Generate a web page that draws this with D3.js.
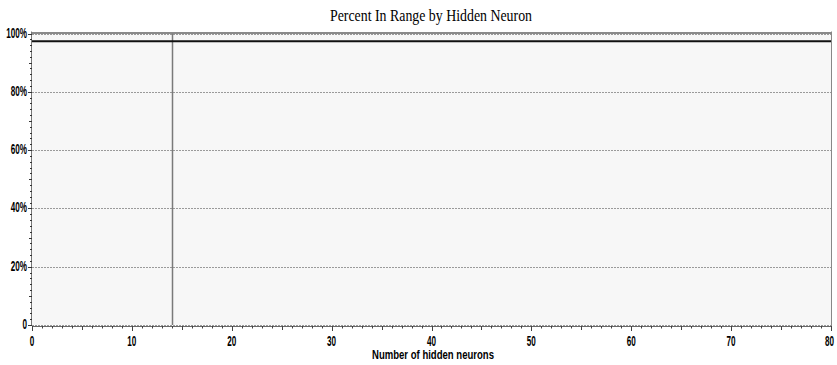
<!DOCTYPE html>
<html><head><meta charset="utf-8">
<script src="https://cdn.jsdelivr.net/npm/d3@7"></script>
<style>
html,body{margin:0;padding:0;background:#fff;}
svg text{font-family:"Liberation Sans","Arial",sans-serif;font-weight:bold;}
</style></head>
<body><svg id="c" width="837" height="365"></svg>
<script>
const title = "Percent In Range by Hidden Neuron";
const xLabel = "Number of hidden neurons";
const hiddenNeurons = [0, 10, 20, 30, 40, 50, 60, 70, 80];
const percentInRange = [97.3, 97.3, 97.3, 97.3, 97.3, 97.3, 97.3, 97.3, 97.3];
const selectedNeurons = 14;
const xTicks = [0, 10, 20, 30, 40, 50, 60, 70, 80];
const yTicks = [0, 20, 40, 60, 80, 100];
const yTickLabels = ["0", "20%", "40%", "60%", "80%", "100%"];

const svg = d3.select("#c");
const m = {l: 32, r: 6, t: 33.5, b: 40};
const W = 837, H = 365;
const x = d3.scaleLinear().domain([0, 80]).range([m.l, W - m.r]);
const y = d3.scaleLinear().domain([0, 100]).range([H - m.b, m.t]);

function squeeze(sel, f) {
  sel.each(function() {
    const n = this.getComputedTextLength();
    d3.select(this).attr("textLength", n * f).attr("lengthAdjust", "spacingAndGlyphs");
  });
}

svg.append("rect").attr("x", x(0)).attr("y", y(100)).attr("width", x(80) - x(0)).attr("height", y(0) - y(100)).attr("fill", "#f7f7f7");

// gridlines
svg.append("g").selectAll("line").data(yTicks).join("line")
  .attr("x1", x(0)).attr("x2", x(80)).attr("y1", d => Math.round(y(d)) + 0.5).attr("y2", d => Math.round(y(d)) + 0.5)
  .attr("stroke", "#9a9a9a").attr("stroke-width", 1).attr("stroke-dasharray", "2,1");

// top border
svg.append("line").attr("x1", x(0)).attr("x2", x(80)).attr("y1", Math.round(y(100)) - 1).attr("y2", Math.round(y(100)) - 1)
  .attr("stroke", "#8a8a8a").attr("stroke-width", 2);
// right border
svg.append("line").attr("x1", Math.round(x(80)) + 0.5).attr("x2", Math.round(x(80)) + 0.5).attr("y1", y(100) - 2).attr("y2", y(0) + 1)
  .attr("stroke", "#888").attr("stroke-width", 1);

// vertical marker
svg.append("line").attr("x1", Math.round(x(selectedNeurons)) + 0.5).attr("x2", Math.round(x(selectedNeurons)) + 0.5)
  .attr("y1", y(100)).attr("y2", y(0)).attr("stroke", "#7a7a7a").attr("stroke-width", 1.5);

// data line
svg.append("path").datum(hiddenNeurons.map((d, i) => [d, percentInRange[i]]))
  .attr("d", d3.line().x(d => x(d[0])).y(d => y(d[1])))
  .attr("fill", "none").attr("stroke", "#111").attr("stroke-width", 2);

// x axis
const xa = svg.append("g").attr("transform", `translate(0,${Math.round(y(0)) + 1})`);
xa.append("line").attr("x1", x(0)).attr("x2", x(80)).attr("y1", 0.5).attr("y2", 0.5).attr("stroke", "#666");
xa.selectAll("line.t").data(d3.range(0, 81)).join("line").attr("class", "t")
  .attr("x1", d => Math.round(x(d)) + 0.5).attr("x2", d => Math.round(x(d)) + 0.5)
  .attr("y1", 0).attr("y2", d => d % 10 === 0 ? 5 : (d % 5 === 0 ? 4 : 2.5))
  .attr("stroke", "#444").attr("stroke-width", 1);
xa.selectAll("text").data(xTicks).join("text")
  .attr("x", d => x(d) - (d === 80 ? 1.5 : 0)).attr("y", 346 - (Math.round(y(0)) + 1)).attr("text-anchor", "middle").attr("font-size", 14).attr("fill", "#000")
  .text(d => d).call(squeeze, 0.58);

// y axis
const ya = svg.append("g");
ya.append("line").attr("x1", x(0) - 0.5).attr("x2", x(0) - 0.5).attr("y1", y(100) - 2).attr("y2", y(0) + 1).attr("stroke", "#777");
ya.selectAll("line.t").data(d3.range(0, 101, 2)).join("line").attr("class", "t")
  .attr("x1", d => x(0) - (d % 20 === 0 ? 4 : (d % 10 === 0 ? 3 : 2))).attr("x2", x(0))
  .attr("y1", d => Math.round(y(d)) + 0.5).attr("y2", d => Math.round(y(d)) + 0.5)
  .attr("stroke", "#333").attr("stroke-width", 1);
ya.selectAll("text").data(yTicks).join("text")
  .attr("x", 27).attr("y", d => y(d) + 4).attr("text-anchor", "end").attr("font-size", 14).attr("fill", "#000")
  .text((d, i) => yTickLabels[i]).call(squeeze, 0.58);

svg.append("text").attr("x", 433).attr("y", 359).attr("text-anchor", "middle").attr("font-size", 12.5).attr("fill", "#000")
  .attr("textLength", 122).attr("lengthAdjust", "spacingAndGlyphs").text(xLabel);

svg.append("text").attr("x", 431).attr("y", 21).attr("text-anchor", "middle")
  .style("font-family", '"Liberation Serif","Times New Roman",serif').style("font-weight", "normal")
  .attr("font-size", 17).attr("fill", "#000")
  .attr("textLength", 202).attr("lengthAdjust", "spacingAndGlyphs").text(title);
</script></body></html>
